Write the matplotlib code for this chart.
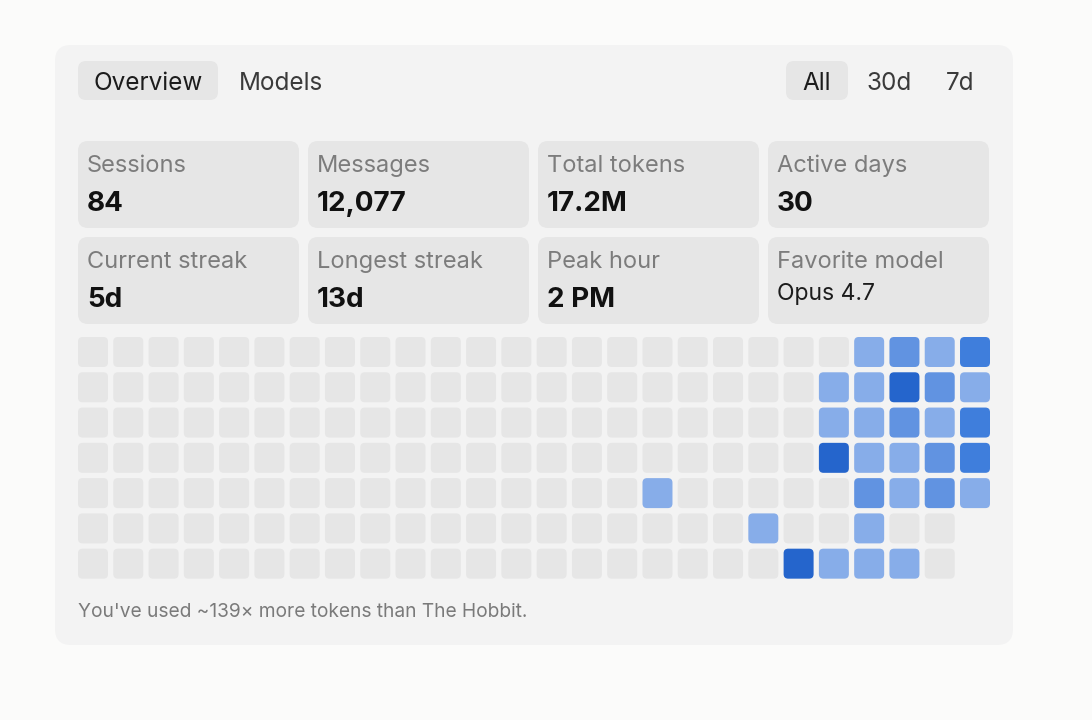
import matplotlib
matplotlib.use('Agg')
import matplotlib.pyplot as plt
from matplotlib.patches import FancyBboxPatch

plt.rcParams['font.family'] = ['Inter', 'DejaVu Sans']

tabs = ['Overview', 'Models']
ranges = ['All', '30d', '7d']

stat_labels = ['Sessions', 'Messages', 'Total tokens', 'Active days',
               'Current streak', 'Longest streak', 'Peak hour', 'Favorite model']
stat_values = ['84', '12,077', '17.2M', '30', '5d', '13d', '2 PM', 'Opus 4.7']

footnote = "You've used ~139\u00d7 more tokens than The Hobbit."

# activity levels: rows = weekday, cols = week; -1 = no cell yet
activity = [
    [0]*22 + [1, 2, 1, 3],
    [0]*21 + [1, 1, 4, 2, 1],
    [0]*21 + [1, 1, 2, 1, 3],
    [0]*21 + [4, 1, 1, 2, 3],
    [0]*16 + [1] + [0]*5 + [2, 1, 2, 1],
    [0]*19 + [1, 0, 0, 1, 0, 0, -1],
    [0]*20 + [4, 1, 1, 1, 0, -1],
]
level_colors = ['#e6e6e6', '#87ade9', '#6193e1', '#3f7edc', '#2565cc']

BG = '#fbfbfa'
CARD = '#f3f3f3'
TILE = '#e6e6e6'

fig = plt.figure(figsize=(10.92, 7.2), dpi=100)
fig.patch.set_facecolor(BG)
ax = fig.add_axes([0, 0, 1, 1])
ax.set_xlim(0, 1092)
ax.set_ylim(720, 0)
ax.axis('off')


def rbox(x0, y0, x1, y1, r, color):
    ax.add_patch(FancyBboxPatch((x0 + r, y0 + r), x1 - x0 - 2*r, y1 - y0 - 2*r,
                                boxstyle=f'round,pad={r}', fc=color, ec='none'))


# main card
rbox(55, 45, 1013, 645, 16, CARD)

# tabs
rbox(78, 61, 218, 100, 8, TILE)
ax.text(148, 90, tabs[0], ha='center', va='baseline', fontsize=17.5, color='#1c1c1c')
ax.text(281, 90, tabs[1], ha='center', va='baseline', fontsize=17.5, color='#3a3a3a')

rbox(786, 61, 848, 100, 8, TILE)
for xc, lab in zip([817, 889, 960], ranges):
    ax.text(xc, 90, lab, ha='center', va='baseline', fontsize=17.5,
            color='#1c1c1c' if lab == 'All' else '#3a3a3a')

# stat tiles
col_x = [78, 308, 538, 768]
row_y = [141, 237]
for i, (lab, val) in enumerate(zip(stat_labels, stat_values)):
    x0 = col_x[i % 4]
    y0 = row_y[i // 4]
    rbox(x0, y0, x0 + 221, y0 + 87, 10, TILE)
    ax.text(x0 + 9, y0 + 31, lab, ha='left', va='baseline', fontsize=17,
            color='#7c7c7c')
    if lab == 'Favorite model':
        ax.text(x0 + 9, y0 + 63, val, ha='left', va='baseline', fontsize=16.5,
                color='#1c1c1c')
    else:
        ax.text(x0 + 9, y0 + 70, val, ha='left', va='baseline', fontsize=20,
                fontweight='bold', color='#111111')

ax.text(78, 617, footnote, ha='left', va='baseline', fontsize=13.8, color='#7a7a7a')

# activity grid
cell = 0.85
n_rows = len(activity)
n_cols = len(activity[0])
hx = fig.add_axes([78/1092, 1 - (337 + 6.85*35.28)/720, 912/1092, 6.85*35.28/720])
hx.set_xlim(0, n_cols - 1 + cell)
hx.set_ylim(n_rows - 1 + cell, 0)
hx.axis('off')
for r, row in enumerate(activity):
    for c, lvl in enumerate(row):
        if lvl < 0:
            continue
        rr = 0.13
        hx.add_patch(FancyBboxPatch((c + rr, r + rr), cell - 2*rr, cell - 2*rr,
                                    boxstyle=f'round,pad={rr}',
                                    fc=level_colors[lvl], ec='none'))

fig.savefig('out.png', dpi=100, facecolor=BG)
